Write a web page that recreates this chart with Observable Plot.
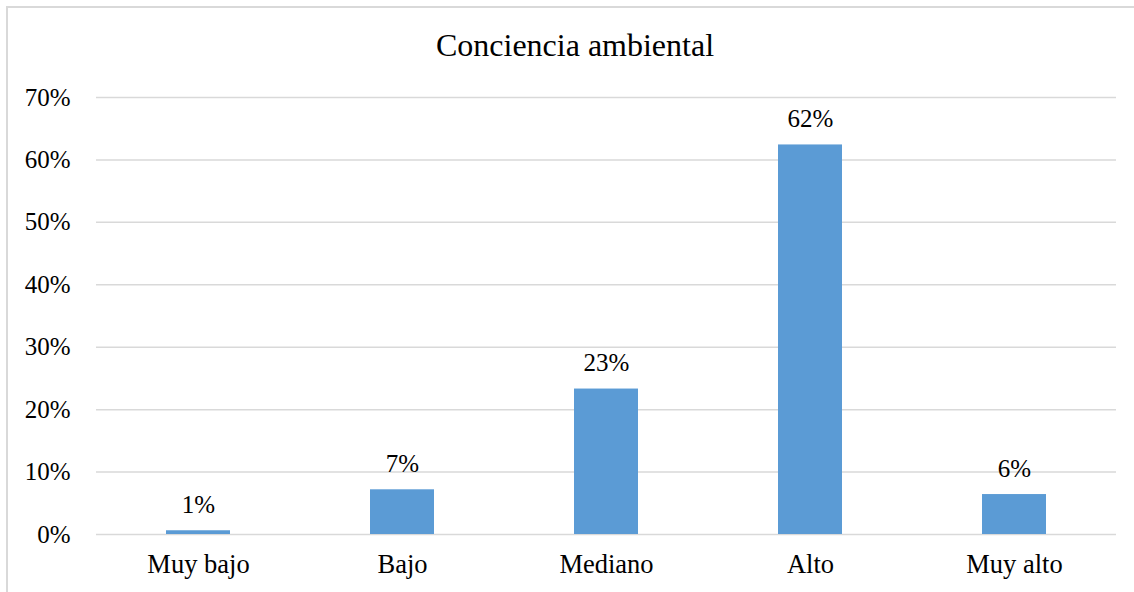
<!DOCTYPE html>
<html>
<head>
<meta charset="utf-8">
<script src="https://cdn.jsdelivr.net/npm/d3@7"></script>
<script src="https://cdn.jsdelivr.net/npm/@observablehq/plot@0.6"></script>
<style>
  html, body { margin: 0; padding: 0; background: #fff; }
  body { width: 1134px; height: 592px; overflow: hidden; position: relative; font-family: "Liberation Serif", "Times New Roman", serif; }
  #frame { position: absolute; left: 6px; top: 6px; width: 1200px; height: 700px; border-left: 2px solid #d9d9d9; border-top: 2px solid #d9d9d9; pointer-events: none; }
  #title { position: relative; height: 80px; }
  #title span { position: absolute; left: 575px; top: 29px; transform: translateX(-50%); font-size: 32px; line-height: 32px; color: #000; white-space: nowrap; }
  #chart { position: relative; }
</style>
</head>
<body>
<div id="frame"></div>
<div id="title"><span>Conciencia ambiental</span></div>
<div id="chart"></div>
<script>
const categories = ["Muy bajo", "Bajo", "Mediano", "Alto", "Muy alto"];
const values = [0.006, 0.0716, 0.233, 0.624, 0.064];
const yTicks = [0, 0.1, 0.2, 0.3, 0.4, 0.5, 0.6, 0.7];

const data = categories.map((c, i) => ({category: c, value: values[i]}));
const pct = d3.format(".0%");

const chart = Plot.plot({
  width: 1134,
  height: 512,
  marginTop: 17,
  marginBottom: 58,
  marginLeft: 96,
  marginRight: 18,
  style: {fontFamily: "'Liberation Serif', 'Times New Roman', serif", color: "#000", background: "transparent"},
  x: {domain: categories, paddingInner: 0.686, paddingOuter: 0.343, label: null},
  y: {domain: [0, 0.7], label: null},
  marks: [
    Plot.gridY(yTicks, {stroke: "#d9d9d9", strokeOpacity: 1, strokeWidth: 1.5}),
    Plot.barY(data, {x: "category", y: "value", fill: "#5B9BD5"}),
    Plot.text(data, {x: "category", y: "value", text: d => pct(d.value), lineAnchor: "bottom", dy: -18, fontSize: 25, fill: "#000"}),
    Plot.axisY(yTicks, {tickFormat: d3.format(".0%"), tickSize: 0, tickPadding: 26, fontSize: 25, label: null, fill: "#000"}),
    Plot.axisX({tickSize: 0, tickPadding: 20, fontSize: 26.5, label: null, fill: "#000"})
  ]
});
document.getElementById("chart").appendChild(chart);
</script>
</body>
</html>
